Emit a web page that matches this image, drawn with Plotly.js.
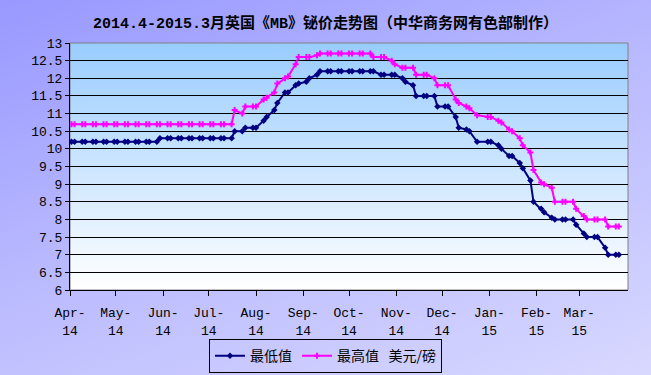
<!DOCTYPE html>
<html><head><meta charset="utf-8">
<script src="https://cdn.plot.ly/plotly-3.0.1.min.js"></script>
<style>
html,body{margin:0;padding:0;width:651px;height:375px;overflow:hidden;
background:linear-gradient(160deg,#9898ff 0%,#b8b8ff 45%,#d8d8ff 100%);}
#chart{width:651px;height:375px;}
</style></head>
<body><div id="chart"></div>
<script>
const dates = [
"2014-04-02","2014-04-04","2014-04-09","2014-04-11","2014-04-16","2014-04-18","2014-04-23","2014-04-25","2014-04-30",
"2014-05-02","2014-05-07","2014-05-09","2014-05-14","2014-05-16","2014-05-21","2014-05-23","2014-05-28","2014-05-30",
"2014-06-04","2014-06-06","2014-06-11","2014-06-13","2014-06-18","2014-06-20","2014-06-25","2014-06-27",
"2014-07-02","2014-07-04","2014-07-09","2014-07-11","2014-07-16","2014-07-18","2014-07-23","2014-07-25","2014-07-30",
"2014-08-01","2014-08-06","2014-08-08","2014-08-13","2014-08-15","2014-08-20","2014-08-22","2014-08-27","2014-08-29",
"2014-09-03","2014-09-05","2014-09-10","2014-09-12","2014-09-17","2014-09-19","2014-09-24","2014-09-26",
"2014-10-01","2014-10-03","2014-10-08","2014-10-10","2014-10-15","2014-10-17","2014-10-22","2014-10-24","2014-10-29","2014-10-31",
"2014-11-05","2014-11-07","2014-11-12","2014-11-14","2014-11-19","2014-11-21","2014-11-26","2014-11-28",
"2014-12-03","2014-12-05","2014-12-10","2014-12-12","2014-12-17","2014-12-19","2014-12-24","2014-12-31",
"2015-01-02","2015-01-07","2015-01-09","2015-01-14","2015-01-16","2015-01-21","2015-01-23","2015-01-28","2015-01-30",
"2015-02-04","2015-02-06","2015-02-11","2015-02-13","2015-02-18","2015-02-20","2015-02-25","2015-02-27",
"2015-03-04","2015-03-06","2015-03-11","2015-03-13","2015-03-18","2015-03-20","2015-03-25","2015-03-27"
];
const lowValues = [
10.2,10.2,10.2,10.2,10.2,10.2,10.2,10.2,10.2,
10.2,10.2,10.2,10.2,10.2,10.2,10.2,10.2,10.3,
10.3,10.3,10.3,10.3,10.3,10.3,10.3,10.3,
10.3,10.3,10.3,10.3,10.3,10.5,10.5,10.6,10.6,
10.6,10.8,10.9,11.1,11.3,11.6,11.6,11.8,11.85,
11.9,12.0,12.1,12.2,12.2,12.2,12.2,12.2,
12.2,12.2,12.2,12.2,12.2,12.2,12.1,12.1,12.1,12.1,
12.0,11.9,11.8,11.5,11.5,11.5,11.5,11.2,
11.2,11.2,10.9,10.6,10.55,10.5,10.2,10.2,
10.2,10.1,10.0,9.8,9.8,9.6,9.45,9.1,8.5,
8.3,8.2,8.05,8.0,8.0,8.0,8.0,7.85,
7.6,7.5,7.5,7.5,7.2,7.0,7.0,7.0
];
const highValues = [
10.7,10.7,10.7,10.7,10.7,10.7,10.7,10.7,10.7,
10.7,10.7,10.7,10.7,10.7,10.7,10.7,10.7,10.7,
10.7,10.7,10.7,10.7,10.7,10.7,10.7,10.7,
10.7,10.7,10.7,10.7,10.7,11.1,11.0,11.2,11.2,
11.2,11.4,11.45,11.6,11.85,12.0,12.05,12.4,12.6,
12.6,12.6,12.65,12.7,12.7,12.7,12.7,12.7,
12.7,12.7,12.7,12.7,12.7,12.6,12.6,12.6,12.5,12.4,
12.3,12.3,12.3,12.1,12.1,12.1,12.0,11.8,
11.8,11.8,11.4,11.3,11.2,11.15,10.95,10.9,
10.9,10.8,10.75,10.55,10.5,10.3,10.1,9.9,9.4,
9.05,9.0,8.9,8.5,8.5,8.5,8.5,8.3,
8.1,8.0,8.0,8.0,8.0,7.8,7.8,7.8
];
const monthTicks = ["2014-04-01","2014-05-01","2014-06-01","2014-07-01","2014-08-01","2014-09-01","2014-10-01","2014-11-01","2014-12-01","2015-01-01","2015-02-01","2015-03-01"];
const monthLabels = ["Apr-","May-","Jun-","Jul-","Aug-","Sep-","Oct-","Nov-","Dec-","Jan-","Feb-","Mar-"];
const yearLabels = ["14","14","14","14","14","14","14","14","14","15","15","15"];
const seriesNames = ["最低值","最高值\u00a0\u00a0\u00a0美元/磅"];
const titleText = "2014.4-2015.3月英国《MB》铋价走势图（中华商务网有色部制作）";

const monoFont = {family:"Liberation Mono, 'Noto Sans CJK SC', monospace", size:13, color:"#000"};
const xRange = ["2014-04-01","2015-04-02"];

const gradSvg = '<svg xmlns="http://www.w3.org/2000/svg" width="10" height="100" preserveAspectRatio="none"><defs><linearGradient id="g" x1="0" y1="0" x2="0" y2="1"><stop offset="0" stop-color="#99ccff"/><stop offset="1" stop-color="#ffffff"/></linearGradient></defs><rect width="10" height="100" fill="url(#g)"/></svg>';
const gradUri = 'data:image/svg+xml;base64,' + btoa(gradSvg);

const traces = [
 {x:dates, y:lowValues, name:seriesNames[0], type:'scatter', mode:'lines+markers', xaxis:'x', yaxis:'y',
  line:{color:'#000080', width:2}, marker:{symbol:'diamond', size:5, color:'#000080'}},
 {x:dates, y:highValues, name:seriesNames[1], type:'scatter', mode:'lines+markers', xaxis:'x2', yaxis:'y',
  line:{color:'#ff00ff', width:2}, marker:{symbol:'cross', size:5, color:'#ff00ff'}}
];

const layout = {
 width:651, height:375,
 margin:{l:70, r:23, t:43, b:85},
 paper_bgcolor:'rgba(0,0,0,0)', plot_bgcolor:'rgba(0,0,0,0)',
 title:{text:titleText, x:0.5, xref:'container', xanchor:'center', y:0.953, yref:'container',
   font:{family:"Liberation Mono, 'Noto Sans CJK SC', sans-serif", size:15, weight:'bold', color:'#000'}},
 xaxis:{type:'date', range:xRange, tickvals:monthTicks, ticktext:monthLabels, tickfont:monoFont,
   showgrid:false, zeroline:false, showline:true, linecolor:'#000', linewidth:1,
   ticks:'outside', ticklen:5, tickcolor:'#000', tickangle:0, ticklabelstandoff:5, fixedrange:true},
 xaxis2:{type:'date', range:xRange, overlaying:'x', anchor:'y', side:'bottom', tickvals:monthTicks, ticktext:yearLabels,
   tickfont:monoFont, showgrid:false, zeroline:false, showline:false, ticks:'', ticklabelstandoff:31, tickangle:0},
 yaxis:{range:[6,13], dtick:0.5, tick0:6, tickfont:monoFont, showgrid:true, gridcolor:'#000', gridwidth:1,
   zeroline:false, showline:true, linecolor:'#000', linewidth:1, ticks:'outside', ticklen:4, tickcolor:'#000'},
 showlegend:true,
 legend:{orientation:'h', xref:'container', yref:'container', x:0.5, xanchor:'center', y:0.005, yanchor:'bottom',
   bgcolor:'rgba(0,0,0,0)', bordercolor:'#000', borderwidth:1,
   font:{family:"'Noto Sans CJK SC', sans-serif", size:14, color:'#000'}, itemwidth:30, tracegroupgap:0},
 images:[{source:gradUri, xref:'paper', yref:'paper', x:0, y:1, sizex:1, sizey:1, sizing:'stretch', layer:'below', xanchor:'left', yanchor:'top'}],
 shapes:[{type:'rect', xref:'paper', yref:'paper', x0:0, x1:1, y0:0, y1:1, line:{color:'#808080', width:1}, layer:'below'}]
};

Plotly.newPlot('chart', traces, layout, {displayModeBar:false, staticPlot:true});
</script>
</body></html>
